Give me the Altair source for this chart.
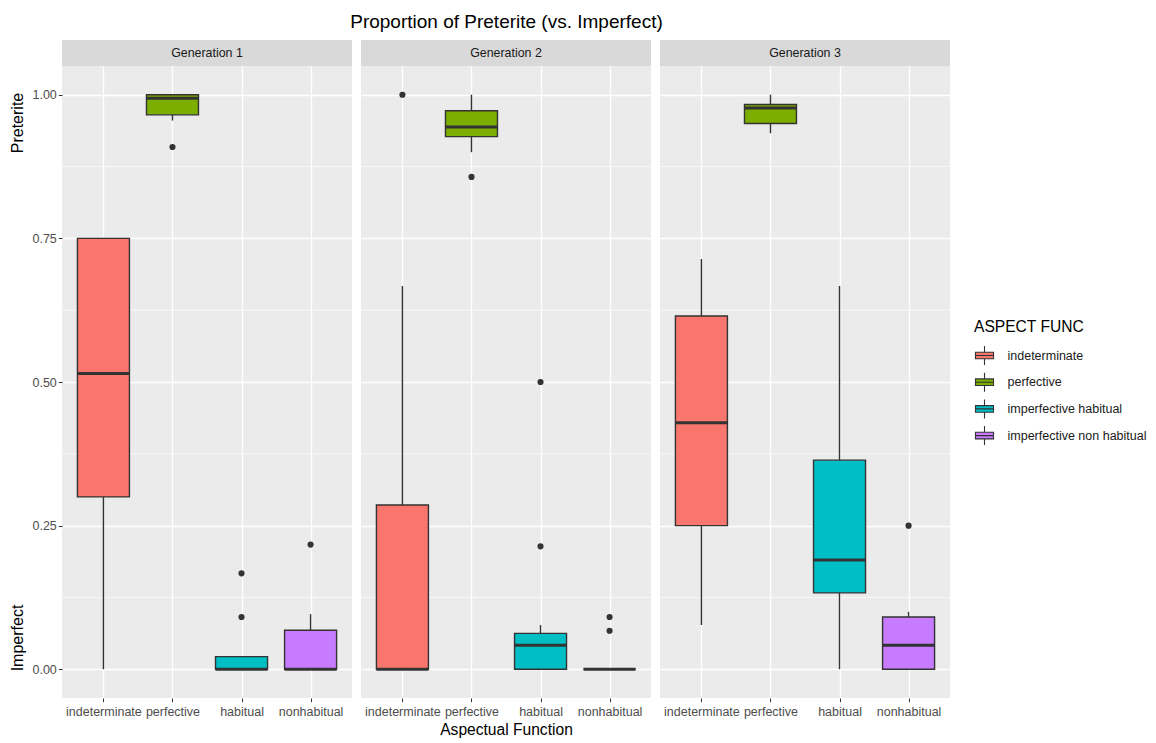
import altair as alt
import pandas as pd

# ---------------- data ----------------
funcs = ["indeterminate", "perfective", "habitual", "nonhabitual"]
aspect_labels = ["indeterminate", "perfective", "imperfective habitual", "imperfective non habitual"]
aspect_colors = ["#F8766D", "#7CAE00", "#00BFC4", "#C77CFF"]
generations = ["Generation 1", "Generation 2", "Generation 3"]

g1_lower = [0.0, 0.955, 0.0, 0.0]
g1_q1 = [0.300, 0.965, 0.0, 0.0]
g1_median = [0.515, 0.994, 0.0, 0.0]
g1_q3 = [0.750, 1.000, 0.022, 0.068]
g1_upper = [0.750, 1.000, 0.022, 0.096]
g1_out_func = ["perfective", "habitual", "habitual", "nonhabitual"]
g1_out_val = [0.909, 0.167, 0.091, 0.217]

g2_lower = [0.0, 0.900, 0.0, 0.0]
g2_q1 = [0.0, 0.927, 0.0, 0.0]
g2_median = [0.0, 0.944, 0.042, 0.0]
g2_q3 = [0.286, 0.972, 0.0625, 0.0]
g2_upper = [0.667, 1.000, 0.077, 0.0]
g2_out_func = ["indeterminate", "perfective", "habitual", "habitual", "nonhabitual", "nonhabitual"]
g2_out_val = [1.000, 0.857, 0.214, 0.500, 0.091, 0.067]

g3_lower = [0.077, 0.933, 0.0, 0.0]
g3_q1 = [0.250, 0.950, 0.133, 0.0]
g3_median = [0.429, 0.977, 0.190, 0.042]
g3_q3 = [0.615, 0.983, 0.364, 0.091]
g3_upper = [0.714, 1.000, 0.667, 0.100]
g3_out_func = ["nonhabitual"]
g3_out_val = [0.250]

y_ticks = [0.0, 0.25, 0.5, 0.75, 1.0]
minor_breaks = [0.125, 0.375, 0.625, 0.875]

stats = [
    (g1_lower, g1_q1, g1_median, g1_q3, g1_upper, g1_out_func, g1_out_val),
    (g2_lower, g2_q1, g2_median, g2_q3, g2_upper, g2_out_func, g2_out_val),
    (g3_lower, g3_q1, g3_median, g3_q3, g3_upper, g3_out_func, g3_out_val),
]

# ---------------- styling ----------------
FONT = "Liberation Sans"
W, H = 290, 632
DARK = "#333333"
BOX_W = 52

xscale = alt.Scale(type="point", domain=funcs, padding=0.6)
yscale = alt.Scale(domain=[-0.05, 1.05], nice=False, zero=False)
color_scale = alt.Scale(domain=aspect_labels, range=aspect_colors)

box_symbol = "M-0.95,-0.35H0.95V0.35H-0.95Z M-0.95,0H0.95 M0,-0.35V-1 M0,0.35V1"
legend = alt.Legend(
    title="ASPECT FUNC", orient="none", legendX=912, legendY=254,
    symbolType=box_symbol, symbolSize=360, symbolStrokeColor=DARK,
    symbolStrokeWidth=1.1, symbolOpacity=1, labelFontSize=12.5, labelFont=FONT,
    labelColor="#1A1A1A", titleFontSize=15.6, titleFont=FONT,
    titleFontWeight="normal", titleColor="black", rowPadding=1.7,
    titlePadding=9.4, labelOffset=12.5,
)


def panel(i):
    lo, q1, med, q3, up, of, ov = stats[i]
    first = i == 0
    middle = i == 1
    box_df = pd.DataFrame({"func": funcs, "aspect": aspect_labels, "lower": lo,
                           "q1": q1, "median": med, "q3": q3, "upper": up})
    out_df = pd.DataFrame({"func": of, "value": ov})

    yaxis = alt.Axis(values=y_ticks, format=".2f", title=None, labels=first,
                     ticks=first, grid=True)
    xaxis = alt.Axis(title="Aspectual Function" if middle else None,
                     labelOverlap=False, labelAngle=0, grid=True,
                     labelPadding=4, titlePadding=4)
    X = alt.X("func:N", scale=xscale, axis=xaxis)

    minor = alt.Chart(pd.DataFrame({"v": minor_breaks})).mark_rule(
        color="white", strokeWidth=0.65).encode(
        y=alt.Y("v:Q", scale=yscale, axis=yaxis))

    base = alt.Chart(box_df)
    whisk = base.mark_rule(color=DARK, strokeWidth=1.4).encode(
        x=X, y=alt.Y("lower:Q", scale=yscale, axis=yaxis), y2="upper:Q")
    box = base.mark_bar(size=BOX_W, stroke=DARK, strokeWidth=1.4).encode(
        x=X, y=alt.Y("q1:Q", scale=yscale, axis=yaxis), y2="q3:Q",
        color=alt.Color("aspect:N", scale=color_scale, legend=legend))
    medl = base.mark_tick(color=DARK, thickness=3, size=BOX_W, opacity=1).encode(
        x=X, y=alt.Y("median:Q", scale=yscale, axis=yaxis))
    outl = alt.Chart(out_df).mark_circle(color=DARK, size=38, opacity=1).encode(
        x=X, y=alt.Y("value:Q", scale=yscale, axis=yaxis))

    strip_df = pd.DataFrame({"gen": [generations[i]]})
    strip = alt.Chart(strip_df).mark_rect(color="#D9D9D9").encode(
        x=alt.value(0), x2=alt.value(W), y=alt.value(-26), y2=alt.value(0))
    strip_text = alt.Chart(strip_df).mark_text(
        font=FONT, fontSize=12.4, color="#1A1A1A").encode(
        x=alt.value(W / 2), y=alt.value(-13), text="gen:N")

    layers = [minor, whisk, box, medl, outl, strip, strip_text]
    if first:
        ytitle_df = pd.DataFrame({"t": ["Preterite"]})
        ytitle2_df = pd.DataFrame({"t": ["Imperfect"]})
        t1 = alt.Chart(ytitle_df).mark_text(
            font=FONT, fontSize=16, angle=270, color="black").encode(
            x=alt.value(-44), y=alt.value(57), text="t:N")
        t2 = alt.Chart(ytitle2_df).mark_text(
            font=FONT, fontSize=16, angle=270, color="black").encode(
            x=alt.value(-44), y=alt.value(572), text="t:N")
        layers += [t1, t2]
    return alt.layer(*layers).properties(width=W, height=H)


chart = alt.hconcat(*[panel(i) for i in range(3)], spacing=7).properties(
    title=alt.TitleParams(
        "Proportion of Preterite (vs. Imperfect)", font=FONT, fontSize=19,
        fontWeight="normal", color="black", anchor="middle", dx=-72,
        offset=8),
    padding={"left": 2, "top": 5, "right": 0, "bottom": 0},
    background="white",
).configure_view(
    fill="#EBEBEB", stroke=None
).configure_axis(
    domain=False, tickColor=DARK, tickSize=3.7, tickWidth=1,
    labelColor="#4D4D4D", labelFont=FONT, labelFontSize=12.5, labelPadding=2,
    gridColor="white", gridWidth=1.3, titleFont=FONT, titleFontSize=15.6,
    titleFontWeight="normal", titleColor="black", titlePadding=4,
)

chart.save("out.html", embed_options={"renderer": "svg", "actions": False})
